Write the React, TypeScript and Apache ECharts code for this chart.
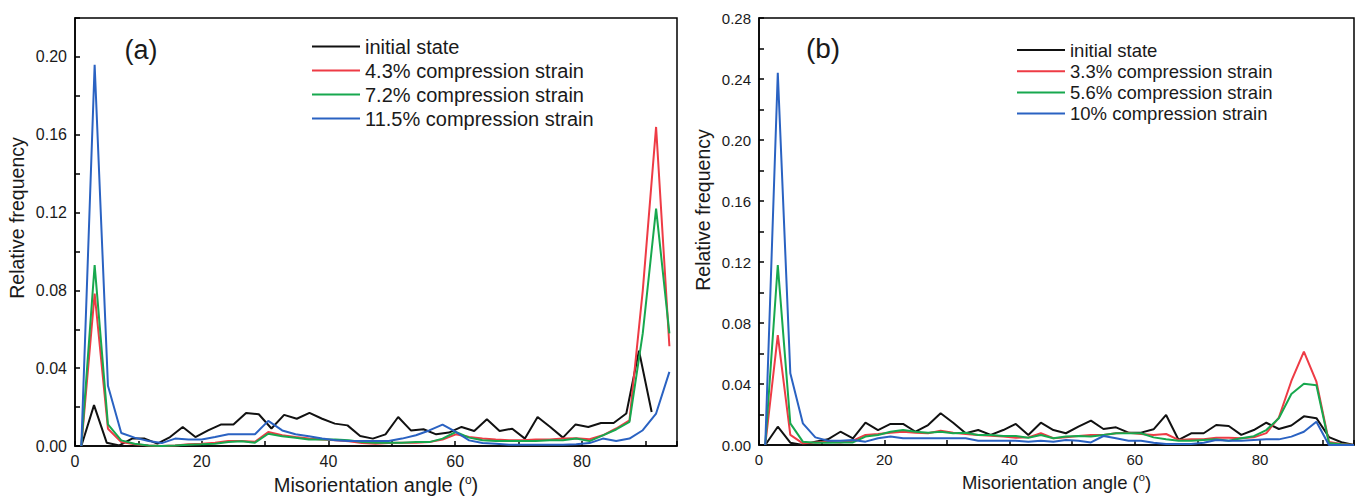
import React, { useEffect, useRef } from "react";
import * as echarts from "echarts";

// ---------- Data ----------
// Panel (a)
const anglesAInitial = [1, 3, 5, 7, 9, 11, 13, 15, 17, 19, 21, 23, 25, 27, 29, 31, 33, 35, 37, 39, 41, 43, 45, 47, 49, 51, 53, 55, 57, 59, 61, 63, 65, 67, 69, 71, 73, 75, 77, 79, 81, 83, 85, 87, 89, 91];
const anglesAStrain = [1.0, 3.1, 5.2, 7.3, 9.4, 11.6, 13.7, 15.8, 17.9, 20.0, 22.1, 24.2, 26.3, 28.4, 30.5, 32.7, 34.8, 36.9, 39.0, 41.1, 43.2, 45.3, 47.4, 49.5, 51.6, 53.8, 55.9, 58.0, 60.1, 62.2, 64.3, 66.4, 68.5, 70.6, 72.7, 74.9, 77.0, 79.1, 81.2, 83.3, 85.4, 87.5, 89.6, 91.7, 93.8];
const aInitial = [0, 0.021, 0.0017, 0.0003, 0.0038, 0.0038, 0.0012, 0.0046, 0.0098, 0.0046, 0.008, 0.011, 0.011, 0.017, 0.0163, 0.009, 0.016, 0.014, 0.017, 0.014, 0.0115, 0.0106, 0.0051, 0.0038, 0.006, 0.0149, 0.008, 0.0086, 0.006, 0.0069, 0.0098, 0.0077, 0.0137, 0.0077, 0.0089, 0.0038, 0.0149, 0.0098, 0.0043, 0.0111, 0.0098, 0.0118, 0.0118, 0.0167, 0.049, 0.0175];
const aStrain43 = [0, 0.0784, 0.0089, 0.002, 0.0009, 0.0003, 0, 0.0003, 0.0009, 0.0012, 0.0017, 0.0026, 0.0026, 0.0022, 0.0072, 0.0055, 0.0046, 0.0038, 0.0033, 0.0029, 0.0024, 0.0015, 0.0012, 0.0015, 0.0017, 0.0017, 0.002, 0.0033, 0.006, 0.0046, 0.0038, 0.0033, 0.0029, 0.0029, 0.0033, 0.0033, 0.0038, 0.004, 0.0035, 0.0055, 0.009, 0.0132, 0.08, 0.164, 0.0513];
const aStrain72 = [0, 0.093, 0.0111, 0.0029, 0.0012, 0.0003, 0, 0.0003, 0.0007, 0.0009, 0.0012, 0.002, 0.0024, 0.0017, 0.0063, 0.005, 0.0043, 0.0034, 0.0034, 0.0033, 0.003, 0.002, 0.0017, 0.0017, 0.0017, 0.002, 0.002, 0.0038, 0.0072, 0.0043, 0.003, 0.0026, 0.0026, 0.0026, 0.0026, 0.003, 0.003, 0.0038, 0.0025, 0.0055, 0.0085, 0.0124, 0.058, 0.122, 0.0579];
const aStrain115 = [0, 0.196, 0.031, 0.0067, 0.0043, 0.0026, 0.0015, 0.0038, 0.0033, 0.0033, 0.0046, 0.006, 0.006, 0.006, 0.0129, 0.008, 0.006, 0.005, 0.0038, 0.0029, 0.0026, 0.0026, 0.0026, 0.0026, 0.0038, 0.0055, 0.008, 0.011, 0.0072, 0.0029, 0.0015, 0.0012, 0.0007, 0.0007, 0.0007, 0.0007, 0.0007, 0.0009, 0.0015, 0.0038, 0.0026, 0.0038, 0.0081, 0.0167, 0.0381];
const namesA = ["initial state", "4.3% compression strain", "7.2% compression strain", "11.5% compression strain"];

// Panel (b)
const anglesB = [1, 3, 5, 7, 9, 11, 13, 15, 17, 19, 21, 23, 25, 27, 29, 31, 33, 35, 37, 39, 41, 43, 45, 47, 49, 51, 53, 55, 57, 59, 61, 63, 65, 67, 69, 71, 73, 75, 77, 79, 81, 83, 85, 87, 89, 91, 93, 95];
const bInitial = [0, 0.012, 0.0015, 0, 0.0022, 0.0037, 0.0087, 0.0044, 0.0146, 0.0098, 0.0138, 0.0138, 0.0087, 0.0131, 0.0208, 0.0146, 0.0077, 0.0098, 0.0066, 0.0098, 0.0138, 0.0066, 0.0146, 0.0098, 0.0077, 0.012, 0.016, 0.0105, 0.0116, 0.0081, 0.0081, 0.0103, 0.0197, 0.0033, 0.0077, 0.0077, 0.0131, 0.0125, 0.0066, 0.0098, 0.0146, 0.0105, 0.0128, 0.0188, 0.0176, 0.0052, 0.0018, 0];
const bStrain33 = [0, 0.0721, 0.0066, 0.0011, 0.0017, 0.0022, 0.0017, 0.0028, 0.0066, 0.0072, 0.0081, 0.0087, 0.0081, 0.0077, 0.0094, 0.0081, 0.0072, 0.0066, 0.0061, 0.0055, 0.0048, 0.005, 0.0077, 0.0044, 0.005, 0.0059, 0.0066, 0.0066, 0.0077, 0.0081, 0.0072, 0.0066, 0.0072, 0.0033, 0.0037, 0.0037, 0.0048, 0.0048, 0.0044, 0.005, 0.0078, 0.018, 0.042, 0.0612, 0.0415, 0.002, 0.0007, 0];
const bStrain56 = [0, 0.118, 0.0142, 0.0022, 0.0015, 0.0015, 0.0017, 0.0017, 0.0055, 0.0066, 0.0087, 0.0098, 0.0087, 0.0081, 0.0087, 0.0077, 0.0081, 0.0066, 0.0066, 0.0059, 0.0059, 0.0048, 0.0066, 0.0044, 0.0055, 0.0059, 0.0055, 0.0066, 0.0077, 0.0077, 0.0077, 0.005, 0.0037, 0.0028, 0.0028, 0.0033, 0.0037, 0.0028, 0.0044, 0.0058, 0.0098, 0.0175, 0.0334, 0.0402, 0.0392, 0.0013, 0.0005, 0];
const bStrain10 = [0, 0.2441, 0.047, 0.0142, 0.005, 0.0028, 0.0028, 0.0033, 0.0022, 0.0044, 0.0055, 0.0044, 0.0044, 0.0044, 0.0044, 0.0044, 0.0044, 0.0028, 0.0028, 0.0028, 0.0028, 0.0022, 0.0028, 0.0022, 0.0033, 0.0028, 0.0017, 0.0059, 0.0044, 0.0028, 0.0028, 0.0015, 0.0007, 0.0007, 0.0007, 0.0015, 0.0033, 0.0028, 0.0028, 0.0033, 0.0037, 0.0037, 0.0055, 0.0087, 0.0153, 0, 0, 0];
const namesB = ["initial state", "3.3% compression strain", "5.6% compression strain", "10% compression strain"];

const xTickLabels = ["0", "20", "40", "60", "80"];

const COLORS = ["#111111", "#ee3b45", "#17a84e", "#2a62c2"];
const FONT = "'Liberation Sans', Arial, Helvetica, sans-serif";
const TEXT = "#1a1a1a";

function pairs(xs: number[], ys: number[]) {
  return ys.map((y, i) => [xs[i], y]);
}

export default function App() {
  const ref = useRef<HTMLDivElement>(null);

  useEffect(() => {
    if (!ref.current) return;
    const chart = echarts.init(ref.current, null, { renderer: "svg" });

    const xAxisBase = (gridIndex: number, fontSize: number, nameSize: number, nameGap: number) => ({
      type: "value",
      gridIndex,
      min: 0,
      max: 95,
      interval: 10,
      name: "Misorientation angle ({sup|o})",
      nameLocation: "middle",
      nameGap,
      nameTextStyle: {
        fontFamily: FONT,
        fontSize: nameSize,
        color: TEXT,
        rich: { sup: { fontFamily: FONT, fontSize: nameSize * 0.6, color: TEXT, padding: [0, 0, nameSize * 0.5, 0] } },
      },
      axisLine: { show: true, lineStyle: { color: "#000", width: 1.5 } },
      axisTick: { show: true, inside: true, length: 5, lineStyle: { color: "#000", width: 1.5 } },
      splitLine: { show: false },
      axisLabel: {
        fontFamily: FONT,
        fontSize,
        color: TEXT,
        margin: 7,
        formatter: (v: number) => {
          const s = String(Math.round(v));
          return xTickLabels.indexOf(s) >= 0 && Math.abs(v - Math.round(v)) < 1e-6 ? s : "";
        },
      },
    });

    const yAxisBase = (gridIndex: number, max: number, fontSize: number, maxLabel: number) => ({
      type: "value",
      gridIndex,
      min: 0,
      max,
      interval: 0.02,
      axisLine: { show: true, lineStyle: { color: "#000", width: 1.5 } },
      axisTick: { show: true, inside: true, length: 5, lineStyle: { color: "#000", width: 1.5 } },
      splitLine: { show: false },
      axisLabel: {
        fontFamily: FONT,
        fontSize,
        color: TEXT,
        margin: 8,
        formatter: (v: number) => {
          const k = Math.round(v / 0.02);
          return k % 2 === 0 && v <= maxLabel + 1e-9 ? v.toFixed(2) : "";
        },
      },
    });

    const mkSeries = (name: string, xs: number[], ys: number[], idx: number, color: string) => ({
      type: "line",
      name,
      xAxisIndex: idx,
      yAxisIndex: idx,
      data: pairs(xs, ys),
      symbol: "none",
      color,
      lineStyle: { color, width: 2 },
      z: 3,
    });

    const option: any = {
      animation: false,
      backgroundColor: "#ffffff",
      grid: [
        { left: 75, top: 18, width: 602, height: 428, show: true, borderColor: "#000", borderWidth: 1.5, backgroundColor: "transparent", containLabel: false, outerBoundsMode: "none" },
        { left: 759, top: 18, width: 595, height: 427, show: true, borderColor: "#000", borderWidth: 1.5, backgroundColor: "transparent", containLabel: false, outerBoundsMode: "none" },
      ],
      xAxis: [xAxisBase(0, 16, 20, 24), xAxisBase(1, 15, 18.5, 23)],
      yAxis: [yAxisBase(0, 0.22, 16, 0.2), yAxisBase(1, 0.28, 15, 0.28)],
      legend: [
        {
          orient: "vertical",
          left: 312,
          top: 36.5,
          padding: 0,
          itemGap: 4,
          itemWidth: 48,
          itemHeight: 2,
          icon: "rect",
          data: namesA,
          selectedMode: false,
          textStyle: { fontFamily: FONT, fontSize: 20, color: TEXT, lineHeight: 20 },
        },
        {
          orient: "vertical",
          left: 1017,
          top: 40.5,
          padding: 0,
          itemGap: 2.2,
          itemWidth: 48,
          itemHeight: 2,
          icon: "rect",
          data: namesB,
          selectedMode: false,
          textStyle: { fontFamily: FONT, fontSize: 18.5, color: TEXT, lineHeight: 18.5 },
        },
      ],
      graphic: [
        { type: "text", x: 141, y: 50, style: { text: "(a)", font: `27px ${FONT}`, fill: TEXT, textAlign: "center", textVerticalAlign: "middle" } },
        { type: "text", x: 823, y: 48, style: { text: "(b)", font: `28px ${FONT}`, fill: TEXT, textAlign: "center", textVerticalAlign: "middle" } },
        { type: "text", x: 17, y: 218, rotation: Math.PI / 2, style: { text: "Relative frequency", font: `19.5px ${FONT}`, fill: TEXT, textAlign: "center", textVerticalAlign: "middle" } },
        { type: "text", x: 703, y: 210, rotation: Math.PI / 2, style: { text: "Relative frequency", font: `19.5px ${FONT}`, fill: TEXT, textAlign: "center", textVerticalAlign: "middle" } },
      ],
      series: [
        mkSeries(namesA[0], anglesAInitial, aInitial, 0, COLORS[0]),
        mkSeries(namesA[1], anglesAStrain, aStrain43, 0, COLORS[1]),
        mkSeries(namesA[2], anglesAStrain, aStrain72, 0, COLORS[2]),
        mkSeries(namesA[3], anglesAStrain, aStrain115, 0, COLORS[3]),
        mkSeries(namesB[0], anglesB, bInitial, 1, COLORS[0]),
        mkSeries(namesB[1], anglesB, bStrain33, 1, COLORS[1]),
        mkSeries(namesB[2], anglesB, bStrain56, 1, COLORS[2]),
        mkSeries(namesB[3], anglesB, bStrain10, 1, COLORS[3]),
      ],
    };

    chart.setOption(option);
    return () => chart.dispose();
  }, []);

  return (
    <div
      ref={ref}
      style={{ position: "fixed", left: 0, top: 0, width: 1359, height: 496, background: "#fff" }}
    />
  );
}
